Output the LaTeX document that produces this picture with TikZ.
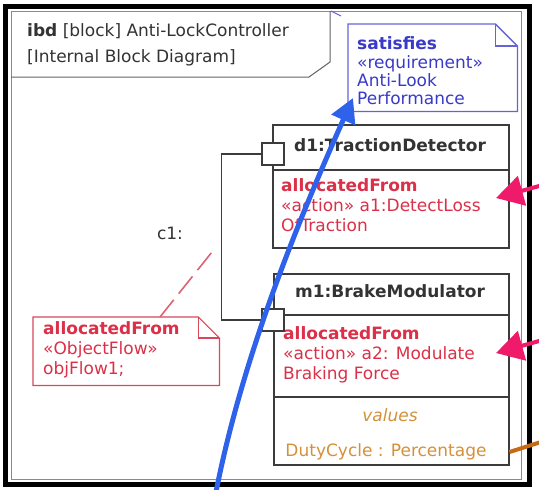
\documentclass[tikz,border=0pt]{standalone}
\usepackage{fontspec}
\setmainfont{DejaVu Sans}
\usetikzlibrary{arrows.meta}
\definecolor{blockgray}{HTML}{3C3C3C}
\definecolor{framegray}{HTML}{8A8A8A}
\definecolor{txtgray}{HTML}{333333}
\definecolor{notebluel}{HTML}{6464D8}
\definecolor{noteblue}{HTML}{3A3AC8}
\definecolor{reqred}{HTML}{DC3048}
\definecolor{notered}{HTML}{D8485A}
\definecolor{valorange}{HTML}{D4913A}
\definecolor{lineorange}{HTML}{C86A14}
\definecolor{arrowpink}{HTML}{F01A6A}
\definecolor{arrowblue}{HTML}{2F62EA}
\begin{document}
\begin{tikzpicture}[x=1pt,y=-1pt,
  blockbox/.style={draw=blockgray, line width=1.5pt, fill=white, inner sep=0pt, anchor=north west},
  divider/.style={draw=blockgray, line width=1.5pt},
  portbox/.style={draw=blockgray, line width=1.3pt, fill=white, minimum size=22pt, inner sep=0pt},
  conn/.style={draw=blockgray, line width=1.2pt},
  txt/.style={inner sep=0pt, text height=12.5pt, text depth=3.5pt, font=\fontsize{17}{20}\selectfont},
  ltxt/.style={txt, anchor=west},
  redtxt/.style={ltxt, text=reqred},
  bluetxt/.style={ltxt, text=noteblue},
  notered/.style={draw=notered, line width=1.2pt},
  noteblue/.style={draw=notebluel, line width=1.3pt}
]
% background and bounding box
\fill[white] (0,0) rectangle (539,490);
\useasboundingbox (0,0) rectangle (539,490);

% frame
\draw[framegray, line width=1pt] (11,11) rectangle (521,479);
\draw[black, line width=5pt] (5.5,6) rectangle (529.5,484.5);

% title pentagon
\draw[blockgray!80, line width=1pt] (330,11) -- (330,62) -- (309,77) -- (11,77);
\node[ltxt, text=txtgray] (t1) at (27,32) {\textbf{ibd} [block] Anti-LockController};
\node[ltxt, text=txtgray] (t2) at (27,58) {[Internal Block Diagram]};
\draw[notebluel, line width=1pt] (331,11) -- (341,16);

% satisfies note
\node[inner sep=0pt, minimum width=169pt, minimum height=87pt, anchor=north west] (sat) at (348,24) {};
\draw[noteblue, fill=white] (sat.north west) -- ([xshift=-22pt]sat.north east) -- ([yshift=-22pt]sat.north east) -- (sat.south east) -- (sat.south west) -- cycle;
\draw[noteblue] ([xshift=-22pt]sat.north east) |- ([yshift=-22pt]sat.north east);
\node[bluetxt] (s1) at (357,45) {\textbf{satisfies}};
\node[bluetxt] (s2) at (357,64) {«requirement»};
\node[bluetxt] (s3) at (357,82) {Anti-Look};
\node[bluetxt] (s4) at (357,100) {Performance};

% d1 block
\node[blockbox, minimum width=236pt, minimum height=123pt] (d1) at (272,124) {};
\draw[divider] ([yshift=-46pt]d1.north west) -- ([yshift=-46pt]d1.north east);
\node[txt, text=txtgray] (d1t) at (390,147) {\textbf{d1:TractionDetector}};
\node[redtxt] (d1a) at (281,187) {\textbf{allocatedFrom}};
\node[redtxt] (d1b) at (281,207) {«action» a1:DetectLoss};
\node[redtxt] (d1c) at (281,227) {OfTraction};

% m1 block
\node[blockbox, minimum width=235pt, minimum height=191pt] (m1) at (273,273) {};
\draw[divider] ([yshift=-42pt]m1.north west) -- ([yshift=-42pt]m1.north east);
\draw[divider] ([yshift=-124pt]m1.north west) -- ([yshift=-124pt]m1.north east);
\node[txt, text=txtgray] (m1t) at (390,293) {\textbf{m1:BrakeModulator}};
\node[redtxt] (m1a) at (283,335) {\textbf{allocatedFrom}};
\node[redtxt] (m1b) at (283,355) {«action» a2: Modulate};
\node[redtxt] (m1c) at (283,375) {Braking Force};
\node[txt, text=valorange] (m1v) at (390,417) {\itshape values};
\node[txt, text=valorange] (m1d) at (386,452) {DutyCycle : Percentage};

% ports and connector c1
\node[portbox] (pd1) at (273,154) {};
\node[portbox] (pm1) at (273,320) {};
\draw[conn] (pd1.west) -- ++(-40,0) coordinate (c1top) |- (pm1.west);
\node[txt, text=txtgray] (c1) at (170,235) {c1:};
\coordinate (c1mid) at (216,247);

% ObjectFlow note
\node[inner sep=0pt, minimum width=186pt, minimum height=68pt, anchor=north west] (ofn) at (33,317) {};
\draw[notered, fill=white] (ofn.north west) -- ([xshift=-21pt]ofn.north east) -- ([yshift=-21pt]ofn.north east) -- (ofn.south east) -- (ofn.south west) -- cycle;
\draw[notered] ([xshift=-21pt]ofn.north east) |- ([yshift=-21pt]ofn.north east);
\node[redtxt] (o1) at (43,330) {\textbf{allocatedFrom}};
\node[redtxt] (o2) at (43,350) {«ObjectFlow»};
\node[redtxt] (o3) at (43,370) {objFlow1;};
\coordinate (ofntop) at (160,317);
\draw[notered!85, line width=1.6pt, dash pattern=on 22pt off 8pt] (ofntop) -- (c1mid);

% pink allocation arrows from outside
\coordinate (pk1s) at (541,185.5);
\coordinate (pk1e) at (496,198);
\coordinate (pk2s) at (541,340.5);
\coordinate (pk2e) at (496,353);
\draw[arrowpink, line width=4pt, -{Triangle[length=27pt,width=30pt]}] (pk1s) -- (pk1e);
\draw[arrowpink, line width=4pt, -{Triangle[length=27pt,width=30pt]}] (pk2s) -- (pk2e);

% orange value line
\coordinate (or2) at (541,442);
\draw[lineorange, line width=4pt] (m1.east |- m1d) -- (or2);

% blue satisfy arrow
\coordinate (bl1) at (216,492);
\coordinate (bl2) at (353,98);
\draw[arrowblue, line width=5pt, -{Triangle[length=24pt,width=25pt]}] (bl1) .. controls (242,360) and (295,228) .. (bl2);
\end{tikzpicture}
\end{document}
